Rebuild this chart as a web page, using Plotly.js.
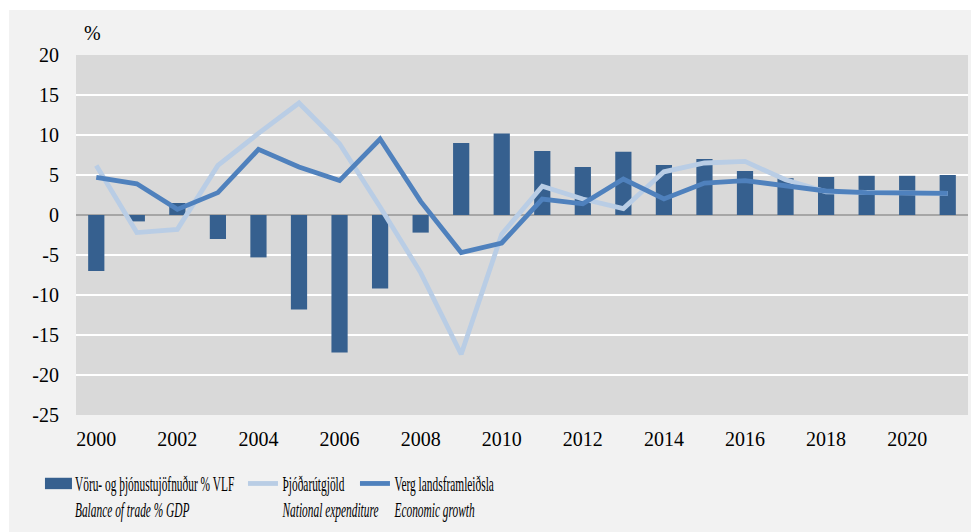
<!DOCTYPE html>
<html>
<head>
<meta charset="utf-8">
<script src="https://cdn.plot.ly/plotly-3.0.1.min.js"></script>
<style>
  html, body { margin: 0; padding: 0; background: #ffffff; width: 980px; height: 532px; overflow: hidden; }
  #chart { position: absolute; left: 9px; top: 10px; width: 962px; height: 522px; }
  .legendtext { transform-box: fill-box; transform-origin: 0 0; transform: scaleX(0.57); }
  .legend .legendpoints path { transform: translate(23.5px, 0px) scale(2.25, 0.95) !important; }
</style>
</head>
<body>
<div id="chart"></div>
<script>
const years = [2000, 2001, 2002, 2003, 2004, 2005, 2006, 2007, 2008, 2009, 2010,
               2011, 2012, 2013, 2014, 2015, 2016, 2017, 2018, 2019, 2020, 2021];
const tradeBalance = [-7.0, -0.8, 1.5, -3.0, -5.3, -11.8, -17.2, -9.2, -2.2, 9.0, 10.2,
                      8.0, 6.0, 7.9, 6.25, 7.0, 5.5, 4.6, 4.75, 4.9, 4.9, 5.0];
const nationalExpenditure = [6.2, -2.2, -1.8, 6.2, 10.2, 14.0, 8.9, 1.0, -7.2, -17.4, -2.4,
                             3.6, 2.0, 0.8, 5.4, 6.5, 6.7, 4.4, 2.9, 2.8, 2.7, 2.7];
const gdpGrowth = [4.7, 3.9, 0.7, 2.8, 8.2, 6.0, 4.3, 9.5, 1.7, -4.7, -3.5,
                   2.0, 1.4, 4.5, 2.0, 4.0, 4.3, 3.6, 3.0, 2.8, 2.7, 2.7];
const xTicks = [2000, 2002, 2004, 2006, 2008, 2010, 2012, 2014, 2016, 2018, 2020];
const yTicks = [-25, -20, -15, -10, -5, 0, 5, 10, 15, 20];
const names = [
  'Vöru- og þjónustujöfnuður % VLF<br><i>Balance of trade % GDP</i>',
  'Þjóðarútgjöld<br><i>National expenditure</i>',
  'Verg landsframleiðsla<br><i>Economic growth</i>'
];

const serif = 'Liberation Serif, Times New Roman, serif';

const traces = [
  {
    type: 'bar', x: years, y: tradeBalance, name: names[0],
    marker: { color: '#36608f', line: { width: 0 } },
    legendwidth: 163
  },
  {
    type: 'scatter', mode: 'lines', x: years, y: nationalExpenditure, name: names[1],
    line: { color: '#b9cde5', width: 4.8 },
    legendwidth: 67
  },
  {
    type: 'scatter', mode: 'lines', x: years, y: gdpGrowth, name: names[2],
    line: { color: '#4f81bd', width: 4.8 }
  }
];

const layout = {
  width: 962, height: 522,
  paper_bgcolor: '#f2f2f2',
  plot_bgcolor: '#d9d9d9',
  margin: { l: 67, r: 3, t: 45, b: 117, autoexpand: false },
  bargap: 0.6,
  font: { family: serif, size: 20, color: '#000000' },
  xaxis: {
    range: [1999.5, 2021.5],
    tickmode: 'array', tickvals: xTicks, ticktext: xTicks.map(String),
    showgrid: false, zeroline: false, showline: false,
    ticks: '', ticklabelstandoff: 10,
    tickfont: { family: serif, size: 20, color: '#000000' },
    fixedrange: true
  },
  yaxis: {
    range: [-25, 20],
    tickmode: 'array', tickvals: yTicks, ticktext: yTicks.map(String),
    showgrid: true, gridcolor: '#ffffff', gridwidth: 2.5,
    zeroline: true, zerolinecolor: '#a6a6a6', zerolinewidth: 1.2,
    showline: false, ticks: '', ticklabelstandoff: 16,
    tickfont: { family: serif, size: 20, color: '#000000' },
    fixedrange: true
  },
  showlegend: true,
  legend: {
    orientation: 'h', x: -0.046, xanchor: 'left', y: -0.136, yanchor: 'top',
    valign: 'top', bgcolor: 'rgba(0,0,0,0)', traceorder: 'normal',
    font: { family: serif, size: 20, color: '#000000' },
    itemwidth: 30, tracegroupgap: 0
  },
  annotations: [
    { text: '%', xref: 'paper', yref: 'paper', x: 0.019, y: 1.061,
      xanchor: 'center', yanchor: 'middle', showarrow: false,
      font: { family: serif, size: 20, color: '#000000' } }
  ]
};

Plotly.newPlot('chart', traces, layout, { displayModeBar: false, staticPlot: true });
</script>
</body>
</html>
